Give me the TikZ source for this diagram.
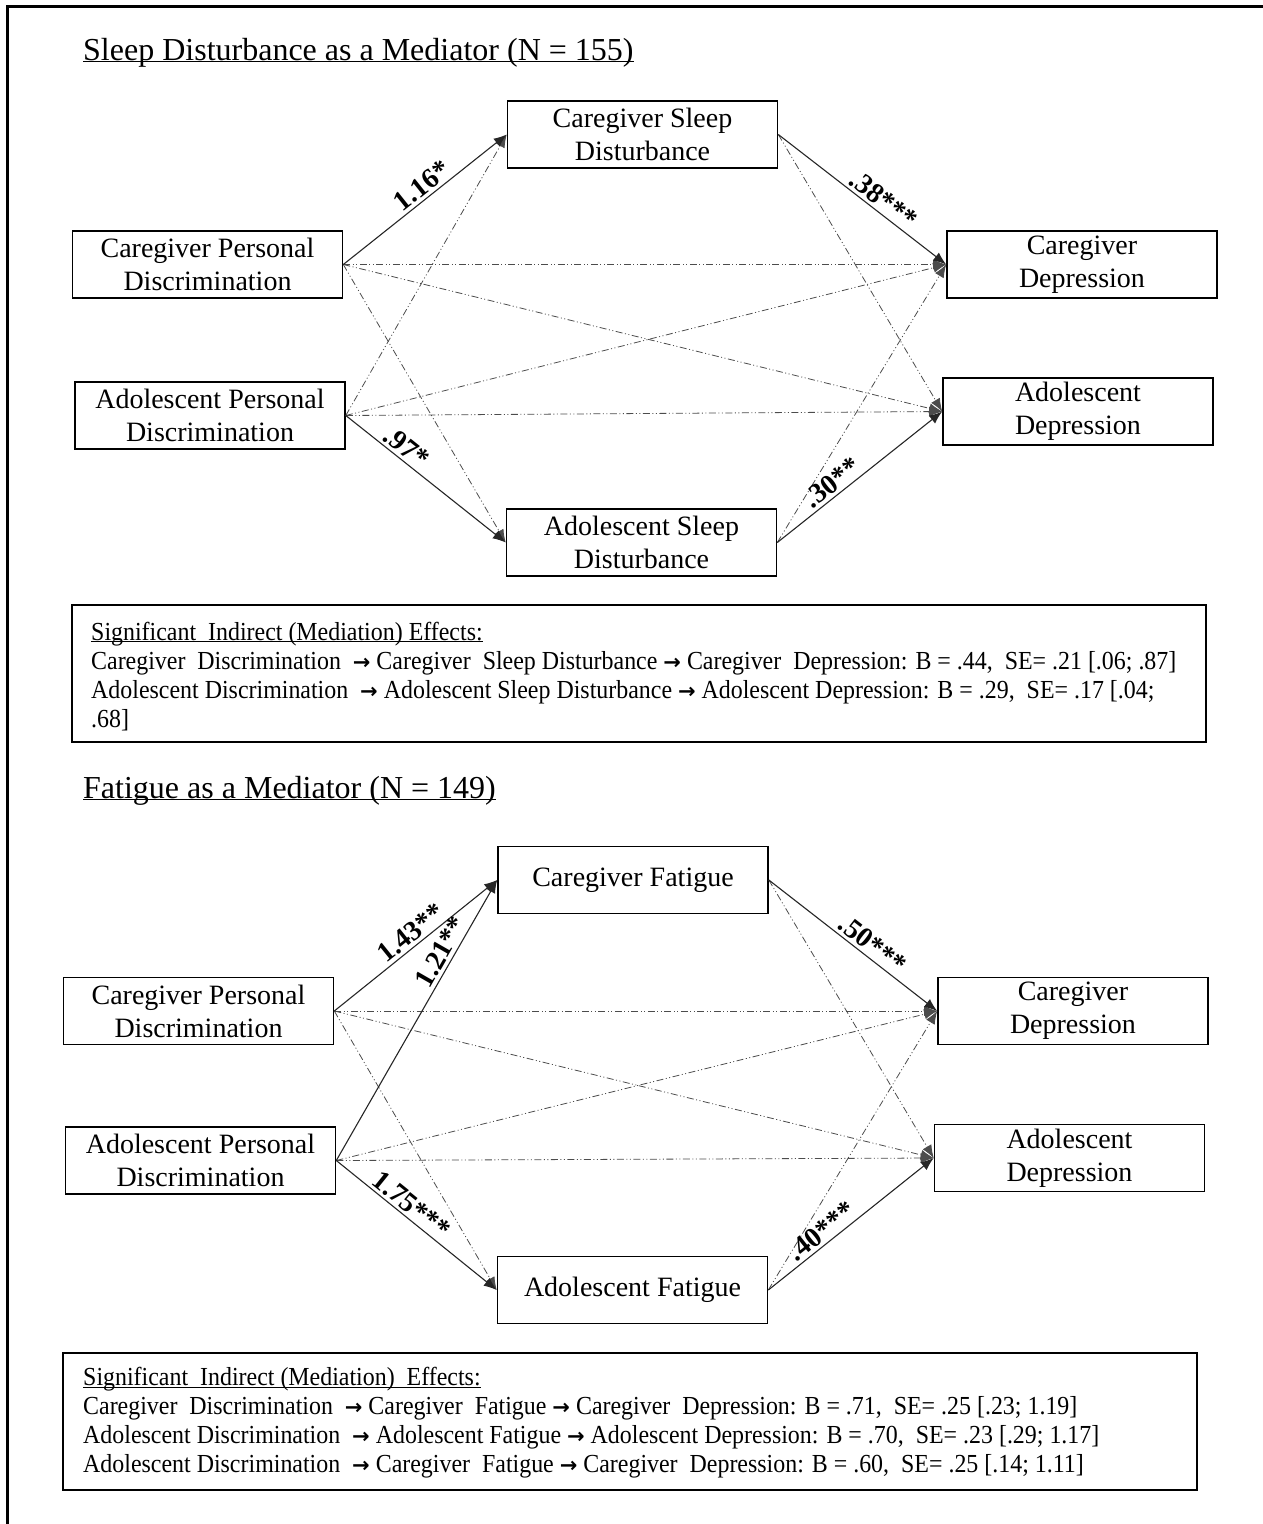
\documentclass[tikz,border=0pt]{standalone}
\usepackage{fontspec}
\setmainfont{Liberation Serif}
\newfontfamily\effont[FakeStretch=0.92]{Liberation Serif}
\newfontfamily\arrfont{DejaVu Sans}
\newcommand{\ar}{{\arrfont\bfseries\fontsize{21}{21}\selectfont →}}
\newcommand{\myul}[1]{\underline{\smash{#1}}}
\usetikzlibrary{arrows.meta}
\begin{document}
\begin{tikzpicture}[x=1pt,y=-1pt,
  box/.style={draw,line width=1.6pt,minimum width=270pt,minimum height=67pt,inner sep=0pt,align=center,font=\fontsize{28}{33}\selectfont},
  sol/.style={line width=1.1pt,black!85,-{Latex[length=13pt,width=10pt]}},
  dsh/.style={line width=0.8pt,black!70,dash pattern=on 7pt off 2.5pt on 1pt off 2.5pt on 1pt off 2.5pt,-{Latex[length=13pt,width=10pt]}},
  lab/.style={sloped,above,font=\bfseries\fontsize{28}{28}\selectfont,inner sep=3pt,black},
  ttl/.style={anchor=west,inner sep=0pt,font=\fontsize{32}{32}\selectfont},
  effbox/.style={draw,line width=1.6pt,anchor=north west,minimum width=1134pt,minimum height=137pt,inner sep=0pt},
  efftext/.style={anchor=west,inner sep=0pt,align=left,font=\effont\fontsize{26}{29}\selectfont}
]
\useasboundingbox (0,0) rectangle (1263,1524);
\draw[line width=3pt] (7,1524) -- (7,6) -- (1263,6);

% ---------- Section 1 ----------
\node[ttl] (t1) at (83,61) {\myul{Sleep Disturbance as a Mediator (N = 155)}};
\node[box] (csd) at (642.5,134.5) {Caregiver Sleep\\Disturbance};
\node[box] (cpd) at (207.5,264.5) {Caregiver Personal\\Discrimination};
\node[box] (apd) at (210,415.5) {Adolescent Personal\\Discrimination};
\node[box] (cdep) at (1082,264.5) {Caregiver\\Depression};
\node[box] (adep) at (1078,411.5) {Adolescent\\Depression};
\node[box] (asd) at (641.5,542.5) {Adolescent Sleep\\Disturbance};

\draw[dsh] (cpd.east) -- (cdep.west);
\draw[dsh] (cpd.east) -- (adep.west);
\draw[dsh] (cpd.east) -- (asd.west);
\draw[dsh] (apd.east) -- (csd.west);
\draw[dsh] (apd.east) -- (cdep.west);
\draw[dsh] (apd.east) -- (adep.west);
\draw[dsh] (csd.east) -- (adep.west);
\draw[dsh] (asd.east) -- (cdep.west);
\draw[sol] (cpd.east) -- node[lab,pos=.53]{1.16*} (csd.west);
\draw[sol] (apd.east) -- node[lab,pos=.33]{.97*} (asd.west);
\draw[sol] (csd.east) -- node[lab,pos=.58]{.38***} (cdep.west);
\draw[sol] (asd.east) -- node[lab,pos=.38]{.30**} (adep.west);

\node[effbox] (e1) at (71,604) {};
\node[efftext] (e1t) at ([xshift=20pt,yshift=-12pt]e1.west) {%
\myul{Significant\ \ Indirect (Mediation) Effects:}\\
Caregiver\ \ Discrimination\ \ \ar{} Caregiver\ \ Sleep Disturbance \ar{} Caregiver\ \ Depression: B = .44,\ \ SE= .21 [.06; .87]\\
Adolescent Discrimination\ \ \ar{} Adolescent Sleep Disturbance \ar{} Adolescent Depression: B = .29,\ \ SE= .17 [.04;\\
.68]};

% ---------- Section 2 ----------
\node[ttl] (t2) at (83,799) {\myul{Fatigue as a Mediator (N = 149)}};
\node[box] (cf) at (633,880) {Caregiver Fatigue};
\node[box] (cpd2) at (198.5,1011) {Caregiver Personal\\Discrimination};
\node[box] (apd2) at (200.5,1160.5) {Adolescent Personal\\Discrimination};
\node[box] (cdep2) at (1073,1011) {Caregiver\\Depression};
\node[box] (adep2) at (1069.5,1158) {Adolescent\\Depression};
\node[box] (af) at (632.5,1290) {Adolescent Fatigue};

\draw[dsh] (cpd2.east) -- (cdep2.west);
\draw[dsh] (cpd2.east) -- (adep2.west);
\draw[dsh] (cpd2.east) -- (af.west);
\draw[dsh] (apd2.east) -- (cdep2.west);
\draw[dsh] (apd2.east) -- (adep2.west);
\draw[dsh] (cf.east) -- (adep2.west);
\draw[dsh] (af.east) -- (cdep2.west);
\draw[sol] (cpd2.east) -- node[lab,pos=.52]{1.43**} (cf.west);
\draw[sol] (apd2.east) -- node[lab,pos=.72]{1.21**} (cf.west);
\draw[sol] (apd2.east) -- node[lab,pos=.42]{1.75***} (af.west);
\draw[sol] (cf.east) -- node[lab,pos=.57]{.50***} (cdep2.west);
\draw[sol] (af.east) -- node[lab,pos=.37]{.40***} (adep2.west);

\node[effbox] (e2) at (62,1352) {};
\node[efftext] (e2t) at ([xshift=21pt,yshift=-10.5pt]e2.west) {%
\myul{Significant\ \ Indirect (Mediation)\ \ Effects:}\\
Caregiver\ \ Discrimination\ \ \ar{} Caregiver\ \ Fatigue \ar{} Caregiver\ \ Depression: B = .71,\ \ SE= .25 [.23; 1.19]\\
Adolescent Discrimination\ \ \ar{} Adolescent Fatigue \ar{} Adolescent Depression: B = .70,\ \ SE= .23 [.29; 1.17]\\
Adolescent Discrimination\ \ \ar{} Caregiver\ \ Fatigue \ar{} Caregiver\ \ Depression: B = .60,\ \ SE= .25 [.14; 1.11]};
\end{tikzpicture}
\end{document}
